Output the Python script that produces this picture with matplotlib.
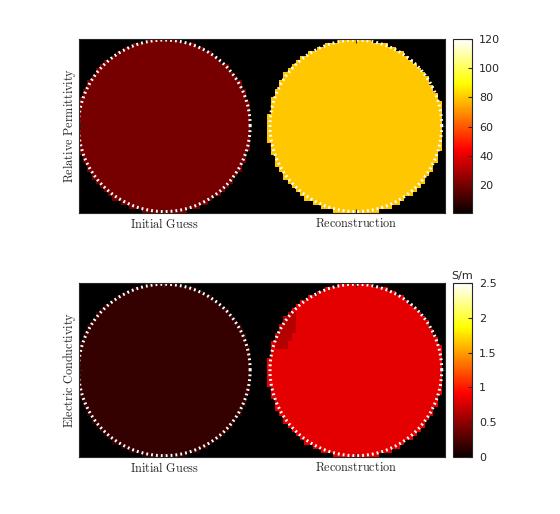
import numpy as np
import matplotlib
matplotlib.use("Agg")
import matplotlib.pyplot as plt

plt.rcParams.update({
    "mathtext.fontset": "cm",
    "font.family": "DejaVu Sans",
})

# panel labels and values
col_labels = ["Initial Guess", "Reconstruction"]
row_labels = ["Relative Permittivity", "Electric Conductivity"]
perm_values = [20.5, 80]        # initial guess, reconstruction
cond_values = [0.16, 0.82]
cond_patch_value = 0.64         # darker spot in upper left of the conductivity reconstruction
perm_range = [1, 120]
cond_range = [0, 2.5]
perm_ticks = [20, 40, 60, 80, 100, 120]
cond_ticks = [0, 0.5, 1, 1.5, 2, 2.5]

# geometry of the two discs inside each axes (data units, height = 1)
width = 2.103
centers = [0.49, 1.59]
radius = 0.505
cell = 0.024


def make_field(values, patch=None):
    xs = np.arange(cell / 2, width, cell)
    ys = np.arange(cell / 2, 1.0, cell)
    X, Y = np.meshgrid(xs, ys)
    field = np.full(X.shape, np.nan)
    for cx, v in zip(centers, values):
        inside = (X - cx) ** 2 + (Y - 0.5) ** 2 <= radius ** 2
        field[inside] = v
    if patch is not None:
        x0, x1, y0, y1, v = patch
        sel = (X >= x0) & (X <= x1) & (Y >= y0) & (Y <= y1) & ~np.isnan(field)
        sel &= (X - centers[1]) ** 2 + (Y - 0.5) ** 2 >= (radius - 0.09) ** 2
        field[sel] = v
    return field


cmap = plt.get_cmap("hot").copy()
cmap.set_bad("black")

fig = plt.figure(figsize=(5.6, 5.14), dpi=100)
ax_pos = [[0.141, 0.586, 0.654, 0.3385], [0.141, 0.111, 0.654, 0.3385]]
cb_pos = [[0.809, 0.586, 0.034, 0.3385], [0.809, 0.111, 0.034, 0.3385]]

fields = [make_field(perm_values),
          make_field(cond_values, (1.14, 1.26, 0.62, 0.84, cond_patch_value))]
ranges = [perm_range, cond_range]
ticks = [perm_ticks, cond_ticks]

theta = np.linspace(0, 2 * np.pi, 400)
for i in range(2):
    ax = fig.add_axes(ax_pos[i])
    ax.set_facecolor("black")
    im = ax.imshow(fields[i], cmap=cmap, vmin=ranges[i][0], vmax=ranges[i][1],
                   extent=[0, width, 0, 1], origin="lower", aspect="auto",
                   interpolation="nearest")
    for cx in centers:
        ax.plot(cx + (radius - 0.012) * np.cos(theta), 0.5 + (radius - 0.012) * np.sin(theta),
                color="white", lw=2.2, ls=(0, (0.6, 1.0)), solid_capstyle="butt")
    ax.set_xlim(0, width)
    ax.set_ylim(0, 1)
    ax.set_xticks(centers)
    ax.set_xticklabels([r"$\mathrm{%s}$" % s.replace(" ", r"\ ") for s in col_labels],
                       fontsize=8.8, color="#262626")
    ax.set_yticks([0.5])
    ax.set_yticklabels([])
    ax.tick_params(direction="in", top=True, right=True, length=3, color="#262626", pad=3)
    ax.set_ylabel(r"$\mathrm{%s}$" % row_labels[i].replace(" ", r"\ "),
                  fontsize=8.8, color="#262626", labelpad=-2)
    for s in ax.spines.values():
        s.set_color("#262626")
        s.set_linewidth(0.8)

    cax = fig.add_axes(cb_pos[i])
    cb = fig.colorbar(im, cax=cax)
    cb.set_ticks(ticks[i])
    cb.set_ticklabels([f"{t:g}" for t in ticks[i]])
    cax.tick_params(direction="in", length=3, labelsize=8, colors="#262626", pad=5)
    cb.outline.set_edgecolor("#262626")
    cb.outline.set_linewidth(0.8)
    if i == 1:
        cax.set_title("S/m", fontsize=8, color="#262626", pad=3)

fig.savefig("out.png", dpi=100)
